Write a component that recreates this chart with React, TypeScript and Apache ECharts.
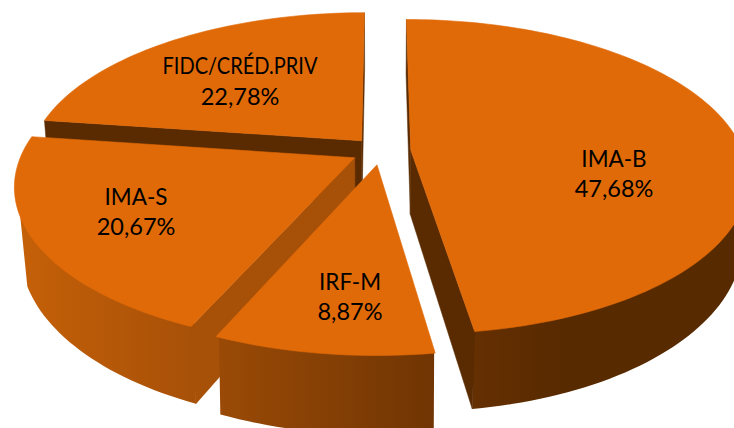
import React, { useEffect, useRef } from "react";
import * as echarts from "echarts";

const categories = ["IMA-B", "IRF-M", "IMA-S", "FIDC/CRÉD.PRIV"];
const shares = [47.68, 8.87, 20.67, 22.78];

// back-to-front painting order (indexes into categories)
const paintOrder = [3, 0, 2, 1];
// centre of each label block, px
const labelCentres = [
  [614, 173],
  [350, 296],
  [136, 211],
  [240, 81],
];
const NAME_FONT_SIZE = 22.5;
const nameScaleX = [1, 1, 1, 0.89];
const VALUE_FONT_SIZE = 23.5;
// colour of the flat cut faces: [start-edge face, end-edge face]
const cutColours = [
  ["#5a2b00", "#5a2b00"],
  ["#6f3503", "#6f3503"],
  ["#a65008", "#a65008"],
  ["#5a2b00", "#5a2b00"],
];

const TOP_COLOUR = "#e06a08";
const CX = 381;
const CY = 151;
const RX = 332;
const RY = 153;
const PERSPECTIVE = 0.17;
const EXPLODE = 0.09;
const DEPTH = 64.5;

function project(u: number, v: number, bottom: boolean): number[] {
  const w = 1 - PERSPECTIVE * v;
  let x = (RX * u) / w;
  let y = (RY * v) / w;
  if (bottom) {
    x *= 0.985 - 0.011 * Math.max(v, 0);
    y += DEPTH / w;
  }
  return [CX + x, CY + y];
}

function sliceAngles(index: number) {
  const total = shares.reduce((a, b) => a + b, 0);
  let acc = 0;
  for (let i = 0; i < index; i++) acc += shares[i];
  const start = (acc / total) * Math.PI * 2;
  const end = ((acc + shares[index]) / total) * Math.PI * 2;
  return { start, end, mid: (start + end) / 2 };
}

function facing(a: number[], b: number[], c: number[]) {
  return (b[0] - a[0]) * (c[1] - b[1]) - (b[1] - a[1]) * (c[0] - b[0]);
}

function buildSlice(index: number) {
  const { start, end, mid } = sliceAngles(index);
  const ox = Math.sin(mid) * EXPLODE;
  const oy = -Math.cos(mid) * EXPLODE;
  const steps = Math.max(12, Math.round(((end - start) / (Math.PI * 2)) * 240));
  const arcTop: number[][] = [];
  const arcBottom: number[][] = [];
  const sideTop: number[][] = [];
  const sideBottom: number[][] = [];
  const frontFrom = (80 * Math.PI) / 180;
  const frontTo = (249 * Math.PI) / 180;
  for (let i = 0; i <= steps; i++) {
    const t = start + ((end - start) * i) / steps;
    const u = ox + Math.sin(t);
    const v = oy - Math.cos(t);
    arcTop.push(project(u, v, false));
    arcBottom.push(project(u, v, true));
    if (t >= frontFrom && t <= frontTo) {
      // pulled slightly under the top face so no pale seam shows along the shared edge
      sideTop.push(project(ox + Math.sin(t) * 0.985, oy - Math.cos(t) * 0.985, false));
      sideBottom.push(project(u, v, true));
    }
  }
  // the side wall ends in a straight silhouette edge on the far left
  if (start < frontTo && end > frontTo) {
    const u = ox + Math.sin(frontTo);
    const v = oy - Math.cos(frontTo);
    sideTop.push(project(u, v, false));
    sideBottom.push(project(u, v, true));
  }
  const apexTop = project(ox, oy, false);
  const apexBottom = project(ox, oy, true);
  const sideGradient = new echarts.graphic.LinearGradient(
    0,
    0,
    734,
    0,
    [
      { offset: 0, color: "#c86208" },
      { offset: 0.27, color: "#a65008" },
      { offset: 0.3, color: "#9a4a06" },
      { offset: 0.59, color: "#703503" },
      { offset: 0.65, color: "#642f02" },
      { offset: 0.77, color: "#582a00" },
      { offset: 1, color: "#582a00" },
    ],
    true
  );
  const poly = (points: number[][], fill: any, seam = 0) => ({
    type: "polygon",
    silent: true,
    shape: { points },
    style: seam ? { fill, stroke: fill, lineWidth: seam } : { fill, stroke: null },
  });
  const children: any[] = [];
  if (sideTop.length > 1) {
    children.push(poly([...sideTop, ...sideBottom.slice().reverse()], sideGradient));
  }
  // only the cut faces that turn towards the viewer are drawn
  if (facing(apexTop, arcTop[0], arcBottom[0]) < 0) {
    children.push(poly([apexTop, arcTop[0], arcBottom[0], apexBottom], cutColours[index][0], 0.5));
  }
  if (facing(apexTop, arcTop[steps], arcBottom[steps]) > 0) {
    children.push(poly([apexTop, arcTop[steps], arcBottom[steps], apexBottom], cutColours[index][1], 0.5));
  }
  children.push(poly([apexTop, ...arcTop], TOP_COLOUR, 0.6));
  children.push(
    {
      type: "text",
      silent: true,
      x: labelCentres[index][0],
      y: labelCentres[index][1] - 15,
      scaleX: nameScaleX[index],
      style: {
        text: categories[index],
        fill: "#000000",
        font: `${NAME_FONT_SIZE}px Lato`,
        align: "center",
        verticalAlign: "middle",
      },
    },
    {
      type: "text",
      silent: true,
      x: labelCentres[index][0],
      y: labelCentres[index][1] + 15,
      style: {
        text: `${shares[index].toFixed(2).replace(".", ",")}%`,
        fill: "#000000",
        font: `${VALUE_FONT_SIZE}px Lato`,
        align: "center",
        verticalAlign: "middle",
      },
    }
  );
  return children;
}

export default function App() {
  const ref = useRef<HTMLDivElement>(null);
  useEffect(() => {
    const chart = echarts.init(ref.current!, null, { renderer: "svg" });
    chart.setOption({
      animation: false,
      backgroundColor: "#ffffff",
      series: [
        {
          type: "custom",
          coordinateSystem: "none",
          silent: true,
          data: paintOrder.map((i) => ({ name: categories[i], value: [i, shares[i]] })),
          renderItem: (params: any) => ({
            type: "group",
            children: buildSlice(paintOrder[params.dataIndex]),
          }),
        },
      ],
    });
    return () => chart.dispose();
  }, []);
  return (
    <div
      ref={ref}
      style={{ position: "absolute", left: 0, top: 0, width: 734, height: 428, overflow: "hidden" }}
    />
  );
}
